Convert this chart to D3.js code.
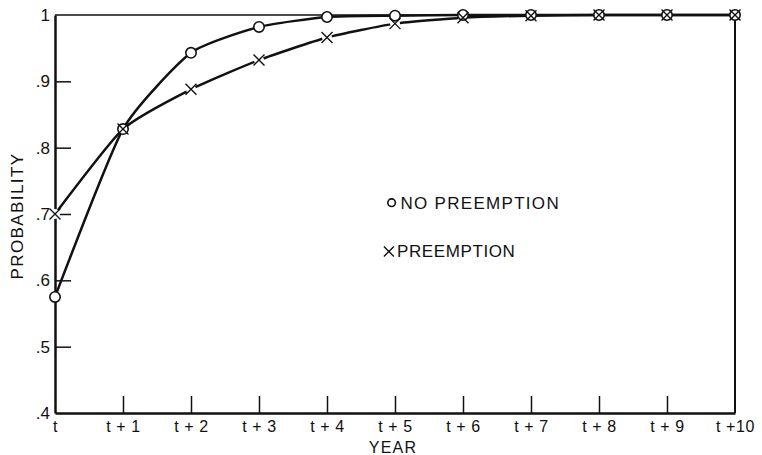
<!DOCTYPE html>
<html>
<head>
<meta charset="utf-8">
<script src="https://cdn.jsdelivr.net/npm/d3@7"></script>
<style>
  body { margin: 0; background: #fff; }
  svg text { font-family: "Liberation Sans", Arial, sans-serif; fill: #111; }
</style>
</head>
<body>
<svg id="chart"></svg>
<script>
// years after t, and the two series
var years = [0, 1, 2, 3, 4, 5, 6, 7, 8, 9, 10];
var yearLabels = ["t", "t + 1", "t + 2", "t + 3", "t + 4", "t + 5", "t + 6", "t + 7", "t + 8", "t + 9", "t +10"];
var noPreemption = [0.575, 0.828, 0.943, 0.982, 0.997, 0.999, 1, 1, 1, 1, 1];
var preemption = [0.700, 0.828, 0.888, 0.932, 0.966, 0.987, 0.996, 0.999, 1, 1, 1];
var yTicks = [0.4, 0.5, 0.6, 0.7, 0.8, 0.9, 1];
var yTickLabels = [".4", ".5", ".6", ".7", ".8", ".9", "1"];

var W = 762, H = 455;
var margin = {top: 15, right: 27, bottom: 42, left: 55};
var width = W - margin.left - margin.right;
var height = H - margin.top - margin.bottom;
var font = "'Liberation Sans', Arial, sans-serif";

var svg = d3.select("#chart")
    .attr("width", W)
    .attr("height", H)
  .append("g")
    .attr("transform", "translate(" + margin.left + "," + margin.top + ")");

var x = d3.scaleLinear().domain([0, 10]).range([0, width]);
var y = d3.scaleLinear().domain([0.4, 1]).range([height, 0]);

// frame
svg.append("line").attr("x1", 0).attr("x2", width).attr("y1", 0).attr("y2", 0)
  .attr("stroke", "#111").attr("stroke-width", 1.5);
svg.append("line").attr("x1", width).attr("x2", width).attr("y1", 0).attr("y2", height)
  .attr("stroke", "#111").attr("stroke-width", 2);

// x axis, ticks pointing inward
var xAxis = svg.append("g")
    .attr("transform", "translate(0," + height + ")")
    .call(d3.axisBottom(x).tickValues(years)
      .tickFormat((d, i) => yearLabels[i])
      .tickSizeInner(-17).tickSizeOuter(0).tickPadding(8));
xAxis.select(".domain").attr("stroke", "#111").attr("stroke-width", 2.5);
xAxis.selectAll(".tick line").attr("stroke", "#111").attr("stroke-width", 1.5)
  .filter(d => d === 0 || d === 10).remove();
xAxis.selectAll(".tick text").attr("fill", "#111")
  .style("font-size", "16px").style("font-family", font).style("letter-spacing", "0.6px");

// y axis, ticks pointing inward
var yAxis = svg.append("g")
    .call(d3.axisLeft(y).tickValues(yTicks)
      .tickFormat((d, i) => yTickLabels[i])
      .tickSizeInner(-16).tickSizeOuter(0).tickPadding(5));
yAxis.select(".domain").attr("stroke", "#111").attr("stroke-width", 2.5);
yAxis.selectAll(".tick line").attr("stroke", "#111").attr("stroke-width", 1.5)
  .filter(d => d === 0.4 || d === 1).remove();
yAxis.selectAll(".tick text").attr("fill", "#111")
  .style("font-size", "17px").style("font-family", font);

// curves
var line = d3.line()
  .x((d, i) => x(years[i]))
  .y(d => y(d))
  .curve(d3.curveCardinal.tension(0.45));

[preemption, noPreemption].forEach(series => {
  svg.append("path")
    .datum(series)
    .attr("fill", "none")
    .attr("stroke", "#111")
    .attr("stroke-width", 2.5)
    .attr("d", line);
});

// markers
function crossPath(cx, cy, s) {
  return "M" + (cx - s) + "," + (cy - s) + "L" + (cx + s) + "," + (cy + s) +
         "M" + (cx - s) + "," + (cy + s) + "L" + (cx + s) + "," + (cy - s);
}

var markers = svg.append("g");
// white backing so the lines break at each cross
markers.selectAll(".xback")
  .data(preemption)
  .join("circle")
    .attr("cx", (d, i) => x(years[i]))
    .attr("cy", d => y(d))
    .attr("r", 5)
    .attr("fill", "#fff");

markers.selectAll(".o")
  .data(noPreemption)
  .join("circle")
    .attr("class", "o")
    .attr("cx", (d, i) => x(years[i]))
    .attr("cy", d => y(d))
    .attr("r", 5.2)
    .attr("fill", "#fff")
    .attr("stroke", "#111")
    .attr("stroke-width", 1.6);

markers.selectAll(".x")
  .data(preemption)
  .join("path")
    .attr("class", "x")
    .attr("d", (d, i) => crossPath(x(years[i]), y(d), 5.5))
    .attr("stroke", "#111")
    .attr("stroke-width", 1.4)
    .attr("fill", "none");

// legend
var lg = svg.append("g");
lg.append("circle").attr("cx", x(4.95)).attr("cy", y(0.717)).attr("r", 3.8)
  .attr("fill", "#fff").attr("stroke", "#111").attr("stroke-width", 1.6);
lg.append("text").attr("x", x(5.08)).attr("y", y(0.717) + 6)
  .style("font-size", "17px").style("letter-spacing", "1.3px").text("NO PREEMPTION");
lg.append("path").attr("d", crossPath(x(4.91), y(0.6435), 5))
  .attr("stroke", "#111").attr("stroke-width", 1.4).attr("fill", "none");
lg.append("text").attr("x", x(5.03)).attr("y", y(0.6435) + 6)
  .style("font-size", "17px").style("letter-spacing", "0.6px").text("PREEMPTION");

// axis titles
svg.append("text")
  .attr("text-anchor", "middle")
  .attr("x", width / 2 - 2)
  .attr("y", height + 40)
  .style("font-size", "16px").style("letter-spacing", "1.2px")
  .text("YEAR");

svg.append("text")
  .attr("text-anchor", "middle")
  .attr("transform", "rotate(-90)")
  .attr("x", -(y(0.7)) - 2)
  .attr("y", -32)
  .style("font-size", "17px").style("letter-spacing", "1.4px")
  .text("PROBABILITY");
</script>
</body>
</html>
